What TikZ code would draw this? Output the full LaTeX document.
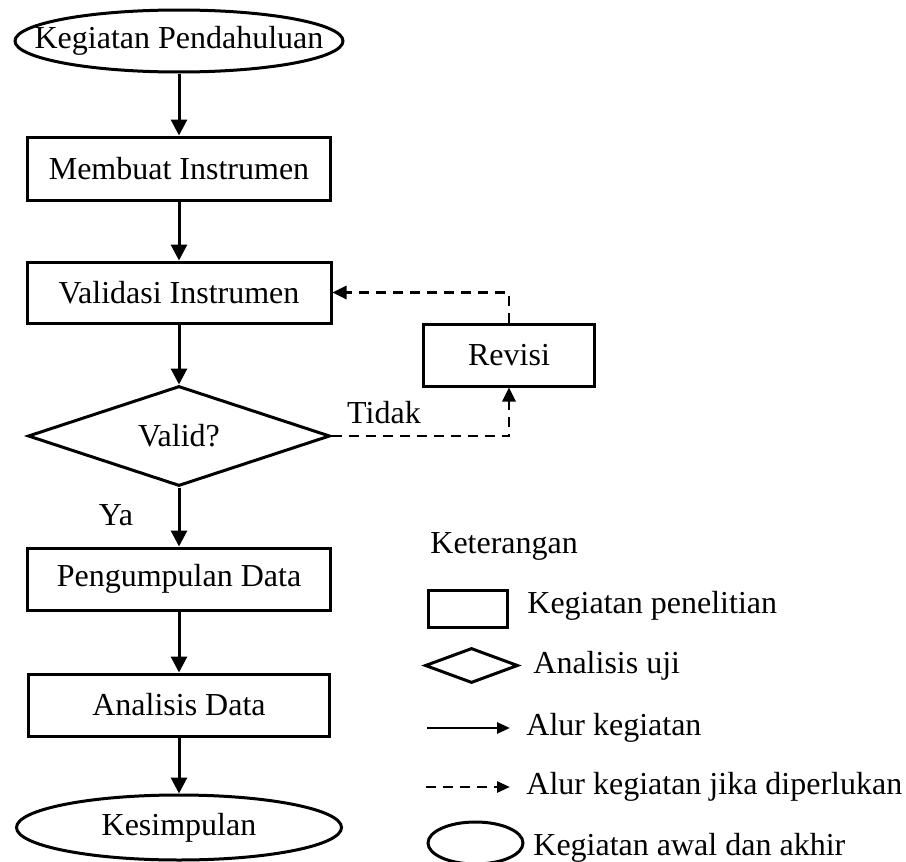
\documentclass[tikz,border=0pt]{standalone}
\usepackage{fontspec}
\setmainfont{Liberation Serif}
\usepackage{tikz}
\usetikzlibrary{arrows.meta, positioning, shapes.geometric}

\begin{document}
\begin{tikzpicture}[
    x=0.5pt, y=-0.5pt,
    font=\fontsize{16}{19}\selectfont,
    proc/.style={rectangle, draw, line width=1.5pt, inner sep=0pt, minimum height=31pt},
    term/.style={ellipse, draw, line width=1.5pt, inner sep=0pt},
    decision/.style={diamond, draw, line width=1.5pt, inner sep=0pt, aspect=3},
    arrow/.style={-{Triangle[length=8pt, width=8pt]}, line width=1.5pt},
    dasharrow/.style={-{Triangle[length=7pt, width=6.5pt]}, line width=1.3pt, dash pattern=on 5pt off 3.5pt},
    legarrow/.style={-{Triangle[length=6.5pt, width=5.5pt]}, line width=1.3pt},
    legtext/.style={anchor=base west, inner sep=0pt}
]
\useasboundingbox (0,0) rectangle (906,862);

% Main flow
\node[term, minimum width=164pt, minimum height=31pt] (awal) at (179,41) {\makebox[0pt]{Kegiatan Pendahuluan}};
\node[proc, minimum width=151.5pt, minimum height=31.5pt] (membuat) at (179,168.5) {Membuat Instrumen};
\node[proc, minimum width=152pt, minimum height=30.5pt] (validasi) at (179,292.5) {Validasi Instrumen};
\node[decision, minimum width=151pt, minimum height=50pt] (valid) at (179,436) {Valid?};
\node[proc, minimum width=85.5pt] (revisi) at (509,355) {Revisi};
\node[proc, minimum width=151.5pt] (kumpul) at (179,579) {Pengumpulan Data};
\node[proc, minimum width=150.5pt] (analisis) at (179,705) {Analisis Data};
\node[term, minimum width=162.5pt, minimum height=32.5pt] (akhir) at (179,827.5) {Kesimpulan};

\draw[arrow] (awal) -- (membuat);
\draw[arrow] (membuat) -- (validasi);
\draw[arrow] (validasi) -- (valid);
\draw[arrow] (valid) -- (kumpul);
\draw[arrow] (kumpul) -- (analisis);
\draw[arrow] (analisis) -- (akhir);

% Revision loop
\draw[dasharrow] (valid.east) -| (revisi.south);
\draw[dasharrow] (revisi.north) |- (validasi.east);

\node[anchor=base] (tidak) at (384,423) {Tidak};
\node[anchor=base] (ya) at (116,525) {Ya};

% Legend
\node[legtext] (ket) at (430,553) {Keterangan};

\node[proc, minimum width=39.5pt, minimum height=18.5pt] (lgproc) at (467.5,608.5) {};
\node[legtext] (lgproctxt) at (527,613) {Kegiatan penelitian};

\node[decision, minimum width=46.5pt, minimum height=17.5pt] (lgdec) at (471.5,665.5) {};
\node[legtext] (lgdectxt) at (533,673) {Analisis uji};

\coordinate (lgsolidA) at (427,728);
\coordinate (lgsolidB) at (510,728);
\draw[legarrow] (lgsolidA) -- (lgsolidB);
\node[legtext] (lgsolidtxt) at (526,735) {Alur kegiatan};

\coordinate (lgdashA) at (426,787);
\coordinate (lgdashB) at (510,787);
\draw[legarrow, dash pattern=on 5pt off 3.5pt] (lgdashA) -- (lgdashB);
\node[legtext] (lgdashtxt) at (526,794) {Alur kegiatan jika diperlukan};

\node[term, minimum width=47.5pt, minimum height=21pt] (lgterm) at (475.5,843) {};
\node[legtext] (lgtermtxt) at (533,855) {Kegiatan awal dan akhir};

\end{tikzpicture}
\end{document}
